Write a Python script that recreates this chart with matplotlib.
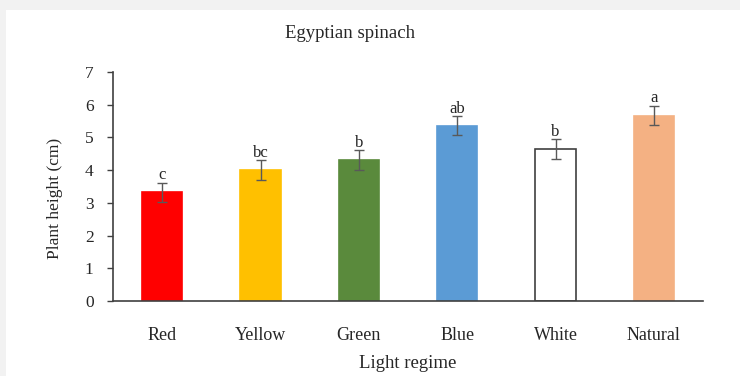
import matplotlib
matplotlib.use("Agg")
import matplotlib.pyplot as plt
from matplotlib.patches import Rectangle
import numpy as np

# data
regimes = ["Red", "Yellow", "Green", "Blue", "White", "Natural"]
height = [3.32, 4.00, 4.31, 5.36, 4.65, 5.67]
err = [0.30, 0.30, 0.30, 0.30, 0.30, 0.30]
letters = ["c", "bc", "b", "ab", "b", "a"]
colors = ["#ff0000", "#ffc000", "#5a8a3c", "#5b9bd5", "#ffffff", "#f4b183"]

plt.rcParams["font.family"] = ["Liberation Serif", "DejaVu Serif"]
axis_grey = "#404040"
text_col = "#262626"

fig = plt.figure(figsize=(7.4, 3.76), dpi=100, facecolor="#f2f2f2")
# white chart area inside the grey frame
fig.patches.append(Rectangle((6 / 740, 0), 1, 1 - 10 / 376, transform=fig.transFigure,
                             facecolor="white", edgecolor="none", zorder=-5))

ax = fig.add_axes([113 / 740, 1 - 301 / 376, 590 / 740, 229 / 376])
ax.set_facecolor("none")
ax.set_zorder(2)

x = np.arange(len(regimes))
edges = [c if c != "#ffffff" else axis_grey for c in colors]
ax.bar(x, height, width=0.41, color=colors, edgecolor=edges, linewidth=1.2, zorder=2)
ax.errorbar(x, height, yerr=err, fmt="none", ecolor="#595959", elinewidth=1,
            capsize=3.6, capthick=1, zorder=3)
for xi, h, e, lab in zip(x, height, err, letters):
    ax.annotate(lab, (xi, h + e), xytext=(0, -0.5), textcoords="offset points",
                ha="center", va="bottom", fontsize=12, color=text_col)

ax.set_xlim(-0.5, len(regimes) - 0.5)
ax.set_ylim(0, 7)
ax.set_yticks(range(0, 8))
ax.set_xticks(x)
ax.set_xticklabels(regimes)

for side in ("top", "right"):
    ax.spines[side].set_visible(False)
for side in ("left", "bottom"):
    ax.spines[side].set_color(axis_grey)
    ax.spines[side].set_linewidth(1.2)

ax.tick_params(axis="y", direction="out", length=4, width=1, color=axis_grey,
               pad=10, labelsize=12.5, labelcolor=text_col)
ax.tick_params(axis="x", length=0, pad=19, labelsize=13, labelcolor=text_col)

ax.set_ylabel("Plant height (cm)", fontsize=12.5, color=text_col)
ax.yaxis.set_label_coords(-0.085, 0.45)
ax.set_xlabel("Light regime", fontsize=13.5, color=text_col, labelpad=8)
fig.text(350 / 740, 1 - 33 / 376, "Egyptian spinach", ha="center", va="center",
         fontsize=13.5, color=text_col)

fig.savefig("out.png", dpi=100, facecolor=fig.get_facecolor())
